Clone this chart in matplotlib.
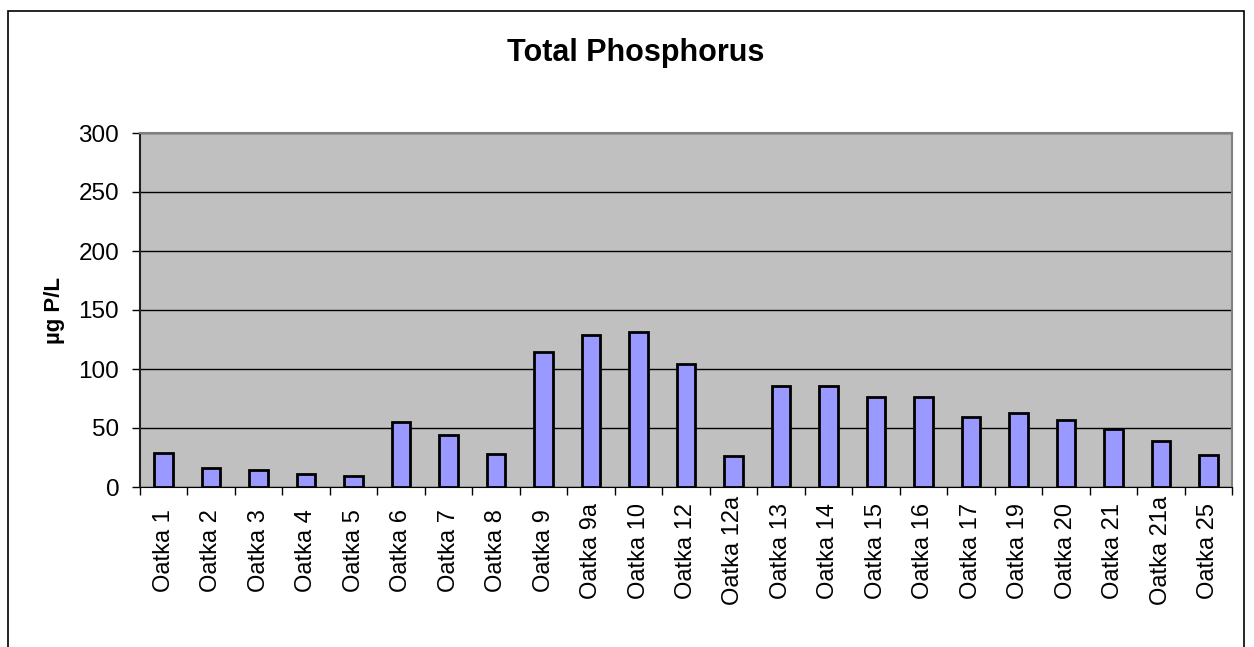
import numpy as np
import matplotlib
matplotlib.use('Agg')
import matplotlib.pyplot as plt
from matplotlib.patches import Rectangle

sites = ["Oatka 1", "Oatka 2", "Oatka 3", "Oatka 4", "Oatka 5", "Oatka 6",
         "Oatka 7", "Oatka 8", "Oatka 9", "Oatka 9a", "Oatka 10", "Oatka 12",
         "Oatka 12a", "Oatka 13", "Oatka 14", "Oatka 15", "Oatka 16",
         "Oatka 17", "Oatka 19", "Oatka 20", "Oatka 21", "Oatka 21a", "Oatka 25"]
tp = [29, 16, 14, 11, 9, 55, 44, 28, 114, 129, 131, 104, 26, 86, 86, 76,
      76, 59, 63, 57, 49, 39, 27]
yticks = [0, 50, 100, 150, 200, 250, 300]

plt.rcParams['font.family'] = ['Liberation Sans', 'DejaVu Sans']

W, H = 1254, 647
fig = plt.figure(figsize=(W / 100, H / 100), dpi=100)

# outer chart border (runs off the bottom)
fig.patches.append(Rectangle((8 / W, -0.1), (1244 - 8) / W, 1.1 - 11 / H,
                             transform=fig.transFigure, fill=False,
                             edgecolor='black', linewidth=1.2))

ax = fig.add_axes([140 / W, 1 - 487 / H, (1232 - 140) / W, (487 - 133) / H])
ax.set_facecolor('#C0C0C0')

x = np.arange(len(sites))
ax.bar(x, tp, width=0.39, color='#9999FF', edgecolor='black', linewidth=2.0, zorder=3)

ax.set_xlim(-0.5, len(sites) - 0.5)
ax.set_ylim(0, 300)
ax.set_yticks(yticks)
ax.yaxis.grid(True, color='black', linewidth=1.0, zorder=1)
ax.set_axisbelow(True)

# category labels, centred vertically below the axis like the original
ax.set_xticks(x)
ax.set_xticklabels(sites, rotation=90, fontsize=17, va='center', ha='center')
ax.tick_params(axis='x', which='major', length=0, pad=46)
ax.set_xticks(np.arange(-0.5, len(sites)), minor=True)
ax.tick_params(axis='x', which='minor', length=6, width=1, color='black')
ax.tick_params(axis='y', length=6, width=1, labelsize=17.5, pad=9)

for s in ['top', 'right']:
    ax.spines[s].set_color('#808080')
    ax.spines[s].set_linewidth(1.5)
ax.spines['left'].set_color('#202020')
ax.spines['left'].set_linewidth(1.5)
ax.spines['bottom'].set_color('black')

ax.set_ylabel('µg P/L', fontsize=16, fontweight='bold', labelpad=10)
fig.text(636 / W, 1 - 53 / H, 'Total Phosphorus', fontsize=22, fontweight='bold',
         ha='center', va='center')

fig.savefig('out.png', dpi=100)
